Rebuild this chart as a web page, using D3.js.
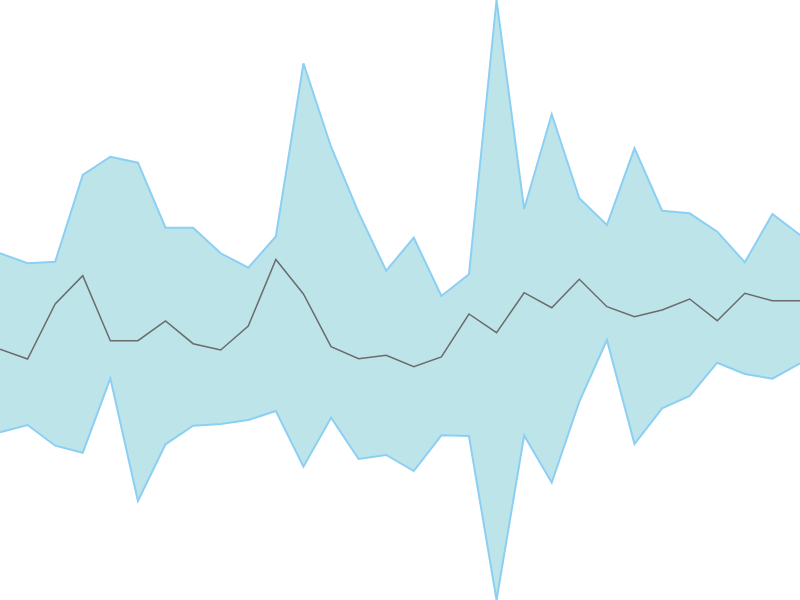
<!DOCTYPE html>
<html>
<head>
<meta charset="utf-8">
<script src="https://cdn.jsdelivr.net/npm/d3@7"></script>
<style>
  html, body { margin: 0; padding: 0; background: #fff; }
  svg { display: block; }
</style>
</head>
<body>
<svg id="chart"></svg>
<script>
// band upper bound, lower bound and central line, one value per step
const upper = [34.67, 33.67, 33.83, 42.5, 44.33, 43.73, 37.23, 37.23, 34.67, 33.23,
  36.35, 53.67, 45.33, 38.73, 32.93, 36.23, 30.4, 32.57, 60, 39.1,
  48.57, 40.17, 37.5, 45.17, 38.93, 38.67, 36.83, 33.77, 38.6, 36.5];
const lower = [16.77, 17.5, 15.43, 14.73, 22.17, 9.9, 15.57, 17.43, 17.6, 18,
  18.9, 13.33, 18.23, 14.1, 14.5, 12.9, 16.47, 16.4, 0, 16.45,
  11.73, 19.83, 26, 15.6, 19.17, 20.4, 23.73, 22.6, 22.13, 23.67];
const middle = [25.07, 24.1, 29.6, 32.43, 25.93, 25.93, 27.9, 25.63, 25, 27.4,
  34.05, 30.6, 25.33, 24.13, 24.47, 23.33, 24.3, 28.6, 26.73, 30.73,
  29.23, 32.07, 29.33, 28.33, 29, 30.1, 27.93, 30.67, 29.93, 29.93];

const width = 800, height = 600;
const idx = d3.range(middle.length);

const x = d3.scaleLinear([0, idx.length - 1], [0, width]);
const y = d3.scaleLinear([d3.min(lower), d3.max(upper)], [height, 0]);

const svg = d3.select("#chart")
    .attr("width", width)
    .attr("height", height)
    .attr("viewBox", [0, 0, width, height]);

const area = d3.area()
    .x(i => x(i))
    .y0(i => y(lower[i]))
    .y1(i => y(upper[i]));

svg.append("path")
    .attr("fill", "#bde4e9")
    .attr("d", area(idx));

// outline only the two edges of the band
svg.append("path")
    .attr("fill", "none")
    .attr("stroke", "#8ccff4")
    .attr("stroke-width", 2)
    .attr("d", d3.line().x(i => x(i)).y(i => y(upper[i]))(idx));

svg.append("path")
    .attr("fill", "none")
    .attr("stroke", "#8ccff4")
    .attr("stroke-width", 2)
    .attr("d", d3.line().x(i => x(i)).y(i => y(lower[i]))(idx));

svg.append("path")
    .attr("fill", "none")
    .attr("stroke", "#6b6b6b")
    .attr("stroke-width", 1.5)
    .attr("d", d3.line().x(i => x(i)).y(i => y(middle[i]))(idx));
</script>
</body>
</html>
